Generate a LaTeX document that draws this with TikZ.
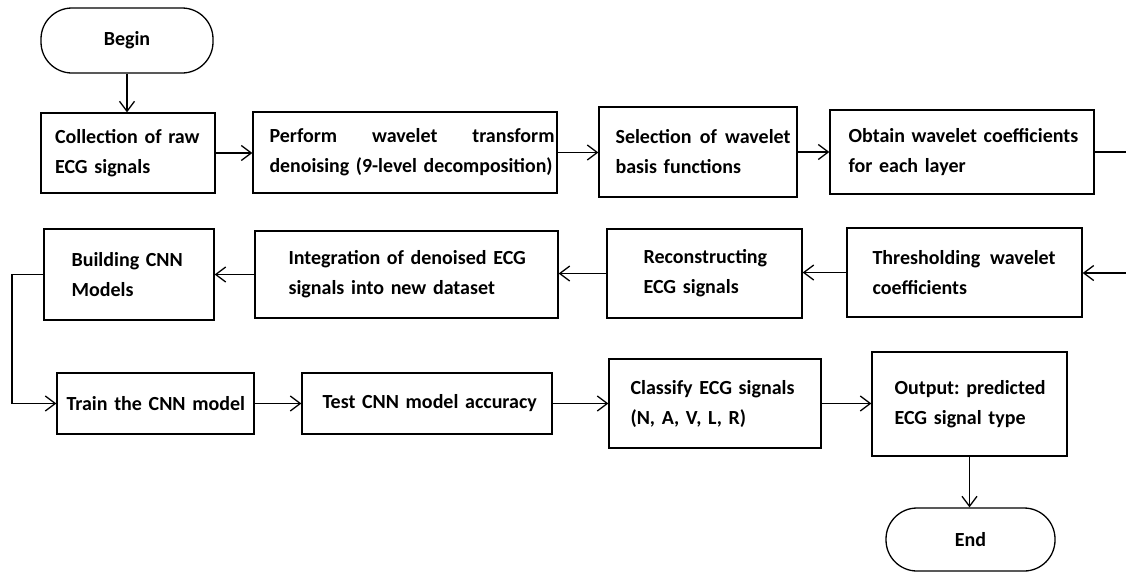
\documentclass[tikz,border=0pt]{standalone}
\usepackage{fontspec}
\usepackage{graphicx}
\setmainfont{Carlito}
\frenchspacing
\usetikzlibrary{arrows.meta}
\tikzset{
  boxst/.style={draw, line width=1.3pt, inner sep=0pt},
  termst/.style={draw, line width=1.3pt, inner sep=0pt, rounded corners=31pt},
  txt/.style={inner sep=0pt, align=left, font=\bfseries\fontsize{20}{30}\selectfont\frenchspacing},
  arr/.style={line width=1.3pt, -{Straight Barb[length=10pt,width=15pt]}},
  ln/.style={line width=1.3pt}
}
\newcommand\flowbox[8]{%
  \node[boxst, minimum width={#4-#2}, minimum height={#5-#3}] (#1) at ({(#2+#4)/2},{(#3+#5)/2}) {};
  \node[txt, text width=#7pt, anchor=west] (#1t) at ([xshift=#6pt]#1.west) {#8};
}
\begin{document}
\begin{tikzpicture}[x=1pt,y=-1pt]
\useasboundingbox (0,0) rectangle (1126,574);
% terminals
\node[termst, minimum width=172, minimum height=65, font=\bfseries\fontsize{20}{30}\selectfont] (begin) at (127,40.5) {Begin};
\node[termst, minimum width=169, minimum height=63, font=\bfseries\fontsize{20}{30}\selectfont] (end) at (970.5,539.5) {End};
% row 1
\flowbox{b1}{41}{113}{215}{193}{14.5}{155}{Collection of raw\\ECG signals}
\flowbox{b2}{253}{112}{557}{193}{17}{285}{Perform\hfill wavelet\hfill transform\\\resizebox{283pt}{\height}{denoising (9-level decomposition)}}
\flowbox{b3}{599}{107}{797}{197}{17}{175}{Selection\hfill of\hfill wavelet\\basis functions}
\flowbox{b4}{830}{110}{1094}{194}{19}{240}{Obtain wavelet coefficients\\for each layer}
% row 2
\flowbox{bld}{44}{229}{214}{320}{28}{135}{Building CNN\\Models}
\flowbox{int}{255}{231}{558}{318}{34}{260}{Integration of denoised ECG\\signals into new dataset}
\flowbox{rec}{607}{229}{802}{318}{37}{150}{Reconstructing\\ECG signals}
\flowbox{thr}{847}{228}{1082}{317}{26}{183}{Thresholding\hfill wavelet\\coefficients}
% row 3
\flowbox{trn}{57}{373}{254}{434}{10}{180}{Train the CNN model}
\flowbox{tst}{302}{373}{552}{434}{21}{215}{Test CNN model accuracy}
\flowbox{cls}{609}{359}{821}{448}{22}{185}{Classify ECG signals\\(N, A, V, L, R)}
\flowbox{out}{872}{352}{1067}{456}{23}{165}{Output: predicted\\ECG signal type}
% free ends
\coordinate (r1) at (1126,152);
\coordinate (r2) at (1126,273);
\coordinate (l1) at (12,300);
% connectors
\draw[arr] (begin.south) -- (begin.south |- b1.north);
\draw[arr] (b1.east) -- (b1.east -| b2.west);
\draw[arr] (b2.east) -- (b2.east -| b3.west);
\draw[arr] (b3.east) -- (b3.east -| b4.west);
\draw[ln] (b4.east) -- (b4.east -| r1);
\draw[arr] (r2) -- (r2 -| thr.east);
\draw[arr] (thr.west) -- (thr.west -| rec.east);
\draw[arr] (rec.west) -- (rec.west -| int.east);
\draw[arr] (int.west) -- (int.west -| bld.east);
\draw[arr] (bld.west) -- (bld.west -| l1) |- (trn.west);
\draw[arr] (trn.east) -- (trn.east -| tst.west);
\draw[arr] (tst.east) -- (tst.east -| cls.west);
\draw[arr] (cls.east) -- (cls.east -| out.west);
\draw[arr] (out.south) -- (out.south |- end.north);
\end{tikzpicture}
\end{document}
